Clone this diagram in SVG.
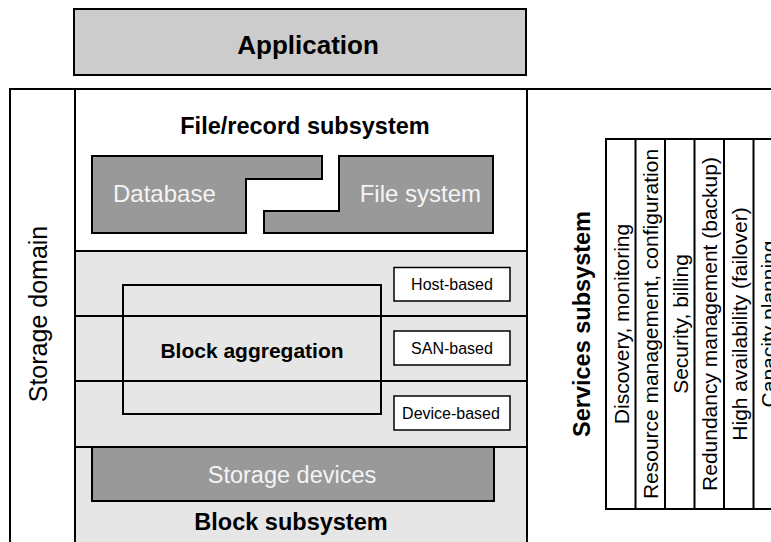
<svg xmlns="http://www.w3.org/2000/svg" width="771" height="542" viewBox="0 0 771 542">
  <style>
    .ln { stroke: #000; stroke-width: 2; fill: none; }
    .box { stroke: #000; stroke-width: 2; }
    .small { stroke: #000; stroke-width: 1.5; fill: #fff; }
    .dark { fill: #999; stroke: #000; stroke-width: 2; }
    .t { font-family: "Liberation Sans", Arial, Helvetica, sans-serif; fill: #000; }
    .b { font-weight: bold; }
    .w { fill: #f4f4f4; }
    .mid { text-anchor: middle; }
  </style>

  <!-- Application layer -->
  <g id="application">
    <rect class="box" x="74" y="9" width="452" height="66" fill="#ccc"/>
    <text class="t b mid" x="308" y="54" font-size="26">Application</text>
  </g>

  <!-- Storage domain frame -->
  <g id="storage-domain">
    <rect x="75" y="251" width="452" height="300" fill="#e6e6e6"/>
    <path class="ln" d="M10,542 V89 H771 M75,89 V542 M527,89 V542"/>
    <text class="t mid" font-size="25" transform="translate(47,314) rotate(-90)">Storage domain</text>
  </g>

  <!-- File/record subsystem -->
  <g id="file-record-subsystem">
    <text class="t b mid" x="305" y="134" font-size="23.5">File/record subsystem</text>
  </g>
  <g id="database">
    <polygon class="dark" points="92,156 322,156 322,179 246,179 246,233 92,233"/>
    <text class="t w" x="113" y="202" font-size="24">Database</text>
  </g>
  <g id="file-system">
    <polygon class="dark" points="339,156 493,156 493,233 264,233 264,211 339,211"/>
    <text class="t w" x="481" y="202" font-size="24" text-anchor="end">File system</text>
  </g>

  <!-- Layer dividers in the block area -->
  <g id="connectors">
    <path class="ln" d="M75,251 H527 M75,316 H527 M75,381 H527 M75,447 H527"/>
  </g>

  <!-- Block aggregation -->
  <g id="block-aggregation">
    <rect class="ln" x="123" y="285" width="258" height="129"/>
    <text class="t b mid" x="252" y="358" font-size="21">Block aggregation</text>
  </g>
  <g id="host-based">
    <rect class="small" x="394" y="267.5" width="116" height="33.5"/>
    <text class="t mid" x="452" y="290" font-size="16">Host-based</text>
  </g>
  <g id="san-based">
    <rect class="small" x="394" y="331" width="116" height="34"/>
    <text class="t mid" x="452" y="354" font-size="16">SAN-based</text>
  </g>
  <g id="device-based">
    <rect class="small" x="394" y="396" width="116" height="34"/>
    <text class="t mid" x="451" y="419" font-size="16">Device-based</text>
  </g>

  <!-- Block subsystem -->
  <g id="storage-devices">
    <rect class="dark" x="92" y="447" width="402" height="54"/>
    <text class="t w mid" x="292" y="483" font-size="23.5">Storage devices</text>
  </g>
  <g id="block-subsystem">
    <text class="t b mid" x="291" y="530" font-size="23.5">Block subsystem</text>
  </g>

  <!-- Services subsystem -->
  <g id="services-subsystem">
    <text class="t b mid" font-size="23.5" transform="translate(590,324) rotate(-90)">Services subsystem</text>
    <path class="ln" d="M790,139 H606 V509 H790 M635.5,139 V509 M665,139 V509 M694.5,139 V509 M724,139 V509 M753.5,139 V509"/>
    <g class="t mid" font-size="21">
      <text transform="translate(628.5,324) rotate(-90)">Discovery, monitoring</text>
      <text transform="translate(658,324) rotate(-90)">Resource management, configuration</text>
      <text transform="translate(687.5,324) rotate(-90)">Security, billing</text>
      <text transform="translate(717,324) rotate(-90)">Redundancy management (backup)</text>
      <text transform="translate(746.5,324) rotate(-90)">High availability (failover)</text>
      <text transform="translate(776,324) rotate(-90)">Capacity planning</text>
    </g>
  </g>
</svg>
